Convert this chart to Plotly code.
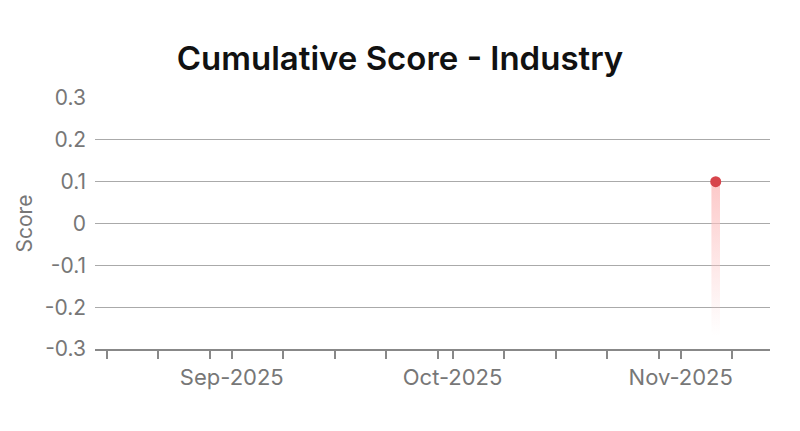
import pandas as pd
import plotly.graph_objects as go

# ---- data ----
dates = ["2025-11-05 18:00"]
scores = [0.1]
y_ticks = [-0.3, -0.2, -0.1, 0, 0.1, 0.2, 0.3]
y_ticktext = ["-0.3", "-0.2", "-0.1", "0", "0.1", "0.2", "0.3"]
x_range = ["2025-08-13 10:00", "2025-11-13 03:00"]
month_labels = {"2025-09-01": "Sep-2025", "2025-10-01": "Oct-2025", "2025-11-01": "Nov-2025"}

# tick positions: 1st, 8th, 15th, 22nd, 29th of each month
tick_dates = []
for m in ["2025-08", "2025-09", "2025-10", "2025-11"]:
    for d in [1, 8, 15, 22, 29]:
        tick_dates.append(f"{m}-{d:02d}")
lo, hi = pd.Timestamp(x_range[0]), pd.Timestamp(x_range[1])
tick_dates = [t for t in tick_dates if lo <= pd.Timestamp(t) <= hi]
tick_text = [month_labels.get(t, "") for t in tick_dates]

ymin = y_ticks[0]
fig = go.Figure()

# gradient stem below each point
half = pd.Timedelta(hours=14)
for d, v in zip(dates, scores):
    t = pd.Timestamp(d)
    fig.add_trace(go.Scatter(
        x=[t - half, t + half, t + half, t - half, t - half],
        y=[v, v, ymin, ymin, v],
        mode="lines", line=dict(width=0),
        fill="toself",
        fillgradient=dict(type="vertical",
                          colorscale=[[0, "rgba(252,200,200,0)"],
                                      [0.08, "rgba(252,200,200,0)"],
                                      [1, "rgba(252,190,190,0.85)"]],
                          start=ymin, stop=v),
        hoverinfo="skip", showlegend=False))

fig.add_trace(go.Scatter(
    x=pd.to_datetime(dates), y=scores, mode="markers",
    marker=dict(size=11, color="#d7444b"), showlegend=False))

fig.update_layout(
    width=800, height=431,
    margin=dict(l=95, r=30, t=98, b=82),
    paper_bgcolor="white", plot_bgcolor="white",
    font=dict(family="Inter", color="#777777", size=22),
    title=dict(text="Cumulative Score - Industry", x=0.5, xanchor="center",
               y=0.865, yanchor="middle",
               font=dict(family="Inter", size=33, color="#111111", weight=600)),
)
fig.update_xaxes(
    type="date", range=x_range,
    tickmode="array", tickvals=tick_dates, ticktext=tick_text,
    ticks="outside", ticklen=8, tickcolor="#888888", tickwidth=1.5,
    showline=True, linecolor="#888888", linewidth=1.5,
    showgrid=False, zeroline=False,
    tickfont=dict(size=22, color="#777777"),
)
fig.update_yaxes(
    range=[-0.3, 0.3], tickmode="array", tickvals=y_ticks, ticktext=y_ticktext,
    showgrid=True, gridcolor="#aaaaaa", gridwidth=1,
    zeroline=False, showline=False, ticks="",
    ticklabelstandoff=8,
    tickfont=dict(size=21, color="#777777"),
    title=dict(text="Score", font=dict(size=21, color="#777777"), standoff=6),
)

fig.write_html("out.html")
